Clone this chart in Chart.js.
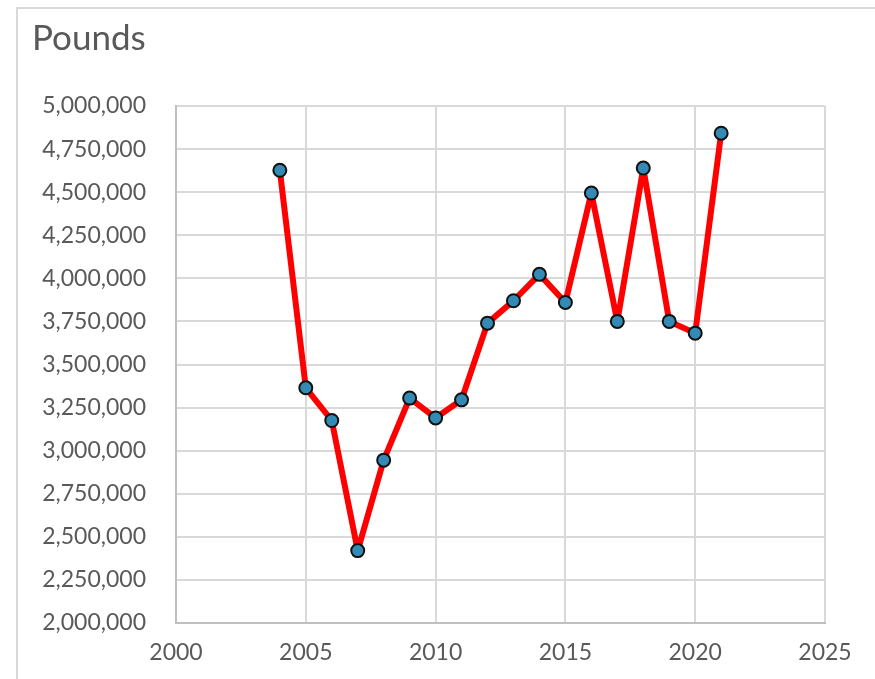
<!DOCTYPE html>
<html>
<head>
<meta charset="utf-8">
<title>Pounds</title>
<script src="https://cdn.jsdelivr.net/npm/chart.js@4"></script>
<style>
  html, body { margin: 0; padding: 0; background: #fff; overflow: hidden; }
  #frame {
    position: absolute; left: 16px; top: 7px;
    width: 1200px; height: 1200px;
    border: 2px solid #d9d9d9; box-sizing: border-box;
  }
  #wrap { position: absolute; left: 0; top: 0; width: 875px; height: 679px; }
</style>
</head>
<body>
<div id="frame"></div>
<div id="wrap"><canvas id="chart"></canvas></div>
<script>
/* ==========================
   Dados
   ========================== */
const anos = [2004, 2005, 2006, 2007, 2008, 2009, 2010, 2011, 2012,
  2013, 2014, 2015, 2016, 2017, 2018, 2019, 2020, 2021];
const libras = [4627000, 3365000, 3175000, 2420000, 2945000, 3305000, 3190000,
  3295000, 3740000, 3870000, 4023000, 3860000, 4495000, 3750000, 4640000,
  3750000, 3682000, 4842000];

const tituloTexto = "Pounds";
const yMin = 2000000, yMax = 5000000, yPasso = 250000;
const xMin = 2000, xMax = 2025, xPasso = 5;

/* --------------------------
   Estilo
   -------------------------- */
const FONTE = "Lato, 'Open Sans', sans-serif";
const COR_TEXTO = "#595959";
const COR_GRADE = "#d9d9d9";

const pontos = anos.map((a, i) => ({ x: a, y: libras[i] }));

const ctx = document.getElementById("chart").getContext("2d");
const grafico = new Chart(ctx, {
  type: "line",
  data: {
    datasets: [
      {
        label: "Pounds",
        data: pontos,
        borderColor: "#ff0000",
        borderWidth: 6,
        borderJoinStyle: "round",
        pointRadius: 6.5,
        pointHoverRadius: 6.5,
        pointBackgroundColor: "#338bb5",
        pointBorderColor: "#111111",
        pointBorderWidth: 2,
        fill: false,
        tension: 0,
      },
    ],
  },
  options: {
    responsive: true,
    maintainAspectRatio: false,
    animation: false,
    layout: { padding: { left: 32, right: 50, top: 0, bottom: 0 } },
    plugins: {
      legend: { display: false },
      tooltip: { enabled: false },
      title: {
        display: true,
        text: tituloTexto,
        align: "start",
        color: COR_TEXTO,
        font: { family: FONTE, size: 35, weight: "normal" },
        padding: { top: 18, bottom: 46 },
      },
    },
    scales: {
      x: {
        type: "linear",
        min: xMin,
        max: xMax,
        grid: { color: COR_GRADE, lineWidth: 2, drawTicks: false },
        border: { color: "#bfbfbf", width: 2 },
        ticks: {
          stepSize: xPasso,
          padding: 16,
          color: COR_TEXTO,
          font: { family: FONTE, size: 23 },
          callback: (v) => String(v),
        },
        afterFit: (s) => { s.height = 56; },
      },
      y: {
        min: yMin,
        max: yMax,
        grid: { color: COR_GRADE, lineWidth: 2, drawTicks: false },
        border: { color: "#bfbfbf", width: 2 },
        ticks: {
          stepSize: yPasso,
          padding: 30,
          color: COR_TEXTO,
          font: { family: FONTE, size: 23 },
          callback: (v) => v.toLocaleString("en-US"),
        },
        afterFit: (s) => { s.width = 144; },
      },
    },
  },
});
</script>
</body>
</html>
